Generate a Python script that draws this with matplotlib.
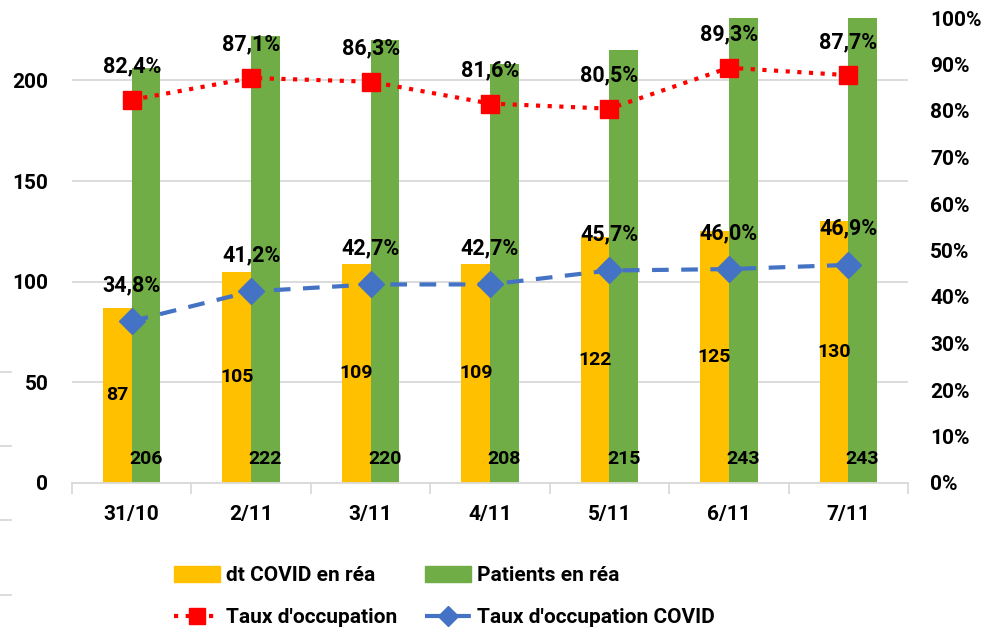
import matplotlib
matplotlib.use("Agg")
import matplotlib.pyplot as plt
import numpy as np
from matplotlib.lines import Line2D
from matplotlib.patches import Patch

plt.rcParams['font.family'] = ['Roboto', 'DejaVu Sans']
plt.rcParams['font.weight'] = 'bold'

categories = ["31/10", "2/11", "3/11", "4/11", "5/11", "6/11", "7/11"]
covid_rea = [87, 105, 109, 109, 122, 125, 130]
patients_rea = [206, 222, 220, 208, 215, 243, 243]
taux_occ = [0.824, 0.871, 0.863, 0.816, 0.805, 0.893, 0.877]
taux_occ_covid = [0.348, 0.412, 0.427, 0.427, 0.457, 0.460, 0.469]
left_ticks = [0, 50, 100, 150, 200]
right_ticks = [0, 0.1, 0.2, 0.3, 0.4, 0.5, 0.6, 0.7, 0.8, 0.9, 1.0]

YELLOW = "#FFC000"
GREEN = "#70AD47"
RED = "#FF0000"
BLUE = "#4472C4"
GRID = "#D9D9D9"

fig = plt.figure(figsize=(9.88, 6.31), dpi=100)
ax = fig.add_axes([72/988, 1-483/631, (908-72)/988, (483-18)/631])
ax2 = ax.twinx()

x = np.arange(len(categories))
w = 0.24
ax.bar(x - w/2, covid_rea, w, color=YELLOW, zorder=2)
ax.bar(x + w/2, patients_rea, w, color=GREEN, zorder=2)

ax.set_ylim(0, 231)
ax.set_xlim(-0.5, len(categories) - 0.5)
ax.set_yticks(left_ticks)
ax.yaxis.grid(True, color=GRID, lw=1.3, zorder=0)
ax.set_axisbelow(True)
for s in ["top", "right", "left"]:
    ax.spines[s].set_visible(False)
    ax2.spines[s].set_visible(False)
ax.spines["bottom"].set_color(GRID)
ax.spines["bottom"].set_linewidth(1.3)
ax2.spines["bottom"].set_visible(False)

ax.set_xticks(x)
ax.set_xticklabels(categories, fontweight='bold')
ax.set_xticks(np.arange(-0.5, len(categories)), minor=True)
ax.tick_params(axis='x', which='major', length=0, pad=16, labelsize=15)
ax.tick_params(axis='x', which='minor', length=8, color=GRID, width=1.3)
ax.tick_params(axis='y', length=0, pad=17, labelsize=15)
for lab in ax.get_yticklabels():
    lab.set_fontweight('bold')

for xi, v in zip(x, covid_rea):
    ax.text(xi - w/2, v/2, f"{v}", ha='center', va='center', fontsize=14,
            fontweight='bold', zorder=3)
for xi, v in zip(x, patients_rea):
    ax.annotate(f"{v}", (xi + w/2, 0), xytext=(0, 17), textcoords='offset points',
                ha='center', va='center', fontsize=14, fontweight='bold', zorder=3)

ax2.set_ylim(0, 1.0)
ax2.set_yticks(right_ticks)
ax2.set_yticklabels([f"{int(round(t*100))}%" for t in right_ticks], fontweight='bold')
ax2.tick_params(axis='y', length=0, pad=16, labelsize=15)

ax2.plot(x, taux_occ, color=RED, ls=(0, (1, 1.8)), lw=3, marker='s',
         markersize=13, markerfacecolor=RED, markeredgecolor=RED, zorder=4)
ax2.plot(x, taux_occ_covid, color=BLUE, ls=(0, (4, 3)), lw=3, marker='D',
         markersize=13, markerfacecolor=BLUE, markeredgecolor=BLUE, zorder=4)

for xi, v in zip(x, taux_occ):
    ax2.annotate(f"{v*100:.1f}%".replace(".", ","), (xi, v), xytext=(0, 24),
                 textcoords='offset points', ha='center', va='center',
                 fontsize=15.5, fontweight='bold', zorder=5)
for xi, v in zip(x, taux_occ_covid):
    ax2.annotate(f"{v*100:.1f}%".replace(".", ","), (xi, v), xytext=(0, 26),
                 textcoords='offset points', ha='center', va='center',
                 fontsize=15.5, fontweight='bold', zorder=5)

h_yellow = Patch(color=YELLOW)
h_green = Patch(color=GREEN)
h_red = Line2D([], [], color=RED, ls=(0, (1, 1.8)), lw=3, marker='s',
               markersize=11, markerfacecolor=RED)
h_blue = Line2D([], [], color=BLUE, ls=(0, (4, 3)), lw=3, marker='D',
                markersize=10, markerfacecolor=BLUE)

kw = dict(frameon=False, handlelength=2.2, handleheight=0.8,
          handletextpad=0.3, labelspacing=1.1, borderpad=0, borderaxespad=0,
          numpoints=1, prop=dict(family=['Roboto', 'DejaVu Sans'], weight='bold', size=15))
fig.legend([h_yellow, h_red], ["dt COVID en réa", "Taux d'occupation"],
           loc='upper left', bbox_to_anchor=(174/988, 1-566/631), **kw)
fig.legend([h_green, h_blue], ["Patients en réa", "Taux d'occupation COVID"],
           loc='upper left', bbox_to_anchor=(425/988, 1-566/631), **kw)

for yy in [372, 446, 520, 595]:
    fig.add_artist(Line2D([0, 11/988], [1-yy/631, 1-yy/631], color=GRID, lw=1.3))

fig.savefig("out.png", dpi=100)
